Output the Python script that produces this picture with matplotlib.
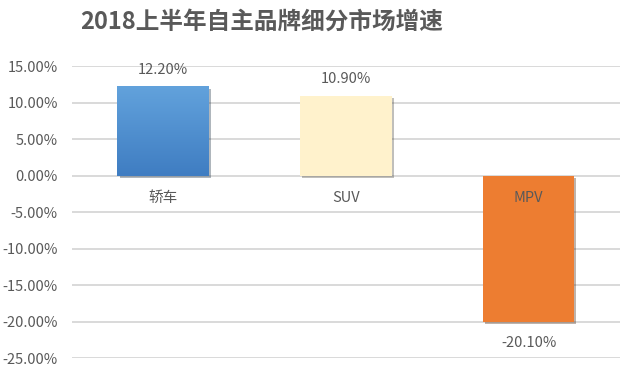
import numpy as np
import matplotlib
matplotlib.use('Agg')
import matplotlib.pyplot as plt
import matplotlib.patheffects as pe
from matplotlib.ticker import FuncFormatter

plt.rcParams['font.family'] = ['Noto Sans CJK SC', 'DejaVu Sans']

title = '2018上半年自主品牌细分市场增速'
categories = ['轿车', 'SUV', 'MPV']
growth = [12.20, 10.90, -20.10]
colors = ['#5B9BD5', '#FFF2CC', '#ED7D31']
yticks = [15, 10, 5, 0, -5, -10, -15, -20, -25]

txt = '#595959'

fig = plt.figure(figsize=(6.3, 3.86), dpi=100)
ax = fig.add_axes([0.114, 0.0725, 0.87, 0.7565])

x = np.arange(len(categories))
bars = ax.bar(x, growth, width=0.5, color=colors, zorder=3,
              path_effects=[pe.SimplePatchShadow(offset=(1.5, -1.5), alpha=0.35),
                            pe.Normal()])

# gradient on the first (blue) bar
b = bars[0]
grad = np.linspace(0, 1, 100).reshape(-1, 1)
cmap = matplotlib.colors.LinearSegmentedColormap.from_list('g', ['#3F7DC2', '#62A2DC'])
im = ax.imshow(grad, cmap=cmap, aspect='auto', origin='lower', zorder=4,
               extent=[b.get_x(), b.get_x() + b.get_width(), 0, b.get_height()])
im.set_clip_path(b)

ax.set_xlim(-0.5, len(categories) - 0.5)
ax.set_ylim(-25, 15)
ax.set_yticks(yticks)
ax.yaxis.set_major_formatter(FuncFormatter(lambda v, p: '%.2f%%' % v))
ax.grid(axis='y', color='#D9D9D9', linewidth=1.4, zorder=0)
ax.set_xticks([])
for s in ax.spines.values():
    s.set_visible(False)
ax.tick_params(axis='y', length=0, pad=10, labelsize=10.5, labelcolor=txt)

for i, v in enumerate(growth):
    if v >= 0:
        ax.text(i, v + 1.3, '%.2f%%' % v, ha='center', va='bottom', fontsize=10.5, color=txt, zorder=5)
    else:
        ax.text(i, v - 1.9, '%.2f%%' % v, ha='center', va='top', fontsize=10.5, color=txt, zorder=5)
    ax.text(i, -2.1, categories[i], ha='center', va='top', fontsize=10.5, color=txt, zorder=5)

fig.text(0.416, 0.943, title, ha='center', va='center', fontsize=17, fontweight='bold', color=txt)

fig.savefig('out.png', dpi=100)
